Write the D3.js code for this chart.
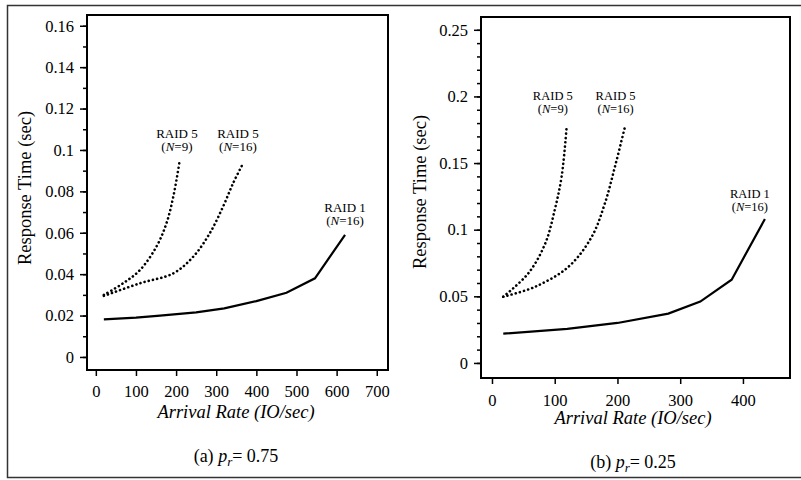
<!DOCTYPE html>
<html>
<head>
<meta charset="utf-8">
<script src="https://cdn.jsdelivr.net/npm/d3@7/dist/d3.min.js"></script>
<style>
  body { margin: 0; background: #fff; }
  svg { font-family: "Liberation Serif", "DejaVu Serif", serif; }
</style>
</head>
<body>
<div id="chart"></div>
<script>
// ---- data ----
// (a) p_r = 0.75
var aRaid1X = [20, 100, 160, 250, 320, 400, 475, 546, 621];
var aRaid1Y = [0.0182, 0.019, 0.020, 0.0215, 0.0235, 0.027, 0.031, 0.038, 0.059];
var aRaid5n9X = [20, 68, 110, 151, 176, 193, 208];
var aRaid5n9Y = [0.030, 0.0356, 0.042, 0.0533, 0.0646, 0.0774, 0.0936];
var aRaid5n16X = [20, 110, 193, 243, 284, 317, 342, 367];
var aRaid5n16Y = [0.0295, 0.0356, 0.0404, 0.0485, 0.0598, 0.0726, 0.0839, 0.0936];
var aXTicks = [0, 100, 200, 300, 400, 500, 600, 700];
var aYTicks = [0, 0.02, 0.04, 0.06, 0.08, 0.1, 0.12, 0.14, 0.16];

// (b) p_r = 0.25
var bRaid1X = [18, 120, 200, 281, 332, 382, 435];
var bRaid1Y = [0.022, 0.0255, 0.030, 0.037, 0.046, 0.0625, 0.108];
var bRaid5n9X = [18, 58, 85, 100, 111, 119];
var bRaid5n9Y = [0.0497, 0.0673, 0.0898, 0.1148, 0.1398, 0.1773];
var bRaid5n16X = [18, 69, 122, 159, 180, 196, 212];
var bRaid5n16Y = [0.0497, 0.0572, 0.0722, 0.0947, 0.1198, 0.1473, 0.1773];
var bXTicks = [0, 100, 200, 300, 400];
var bYTicks = [0, 0.05, 0.1, 0.15, 0.2, 0.25];

var w = 801;
var h = 480;

function zip(xs, ys) {
    return xs.map((x, i) => ({ x: x, y: ys[i] }));
}

var svg = d3.select("#chart")
    .append("svg")
    .attr("width", w)
    .attr("height", h);

// outer figure border
svg.append("rect")
    .attr("x", 7.5)
    .attr("y", 5.5)
    .attr("width", w)
    .attr("height", 472)
    .attr("fill", "none")
    .attr("stroke", "#333")
    .attr("stroke-width", 1.5);

function drawPanel(p) {
    var x = d3.scaleLinear().domain(p.xDomain).range([p.left, p.right]);
    var y = d3.scaleLinear().domain(p.yDomain).range([p.bottom, p.top]);

    var g = svg.append("g");

    // minor y ticks
    var yMinor = d3.range(0, p.yDomain[1], p.yMinorStep);
    g.append("g")
        .attr("transform", `translate(${p.left}, 0)`)
        .call(d3.axisLeft(y).tickValues(yMinor).tickSize(4).tickFormat(""))
        .call(s => s.select(".domain").remove())
        .selectAll("line").attr("stroke-width", 1.5);

    // y axis
    g.append("g")
        .attr("transform", `translate(${p.left}, 0)`)
        .call(d3.axisLeft(y).tickValues(p.yTicks).tickSize(7).tickPadding(6)
            .tickFormat(d => d === 0 ? "0" : String(+d.toFixed(3))))
        .call(s => s.select(".domain").remove())
        .call(s => s.selectAll("line").attr("stroke-width", 1.5))
        .selectAll("text")
        .attr("font-size", 16.5)
        .attr("font-family", "Liberation Serif")
        .attr("fill", "#000");

    // x axis
    g.append("g")
        .attr("transform", `translate(0, ${p.bottom})`)
        .call(d3.axisBottom(x).tickValues(p.xTicks).tickSize(6).tickPadding(p.xPad))
        .call(s => s.select(".domain").remove())
        .call(s => s.selectAll("line").attr("stroke-width", 1.5))
        .selectAll("text")
        .attr("font-size", 16.5)
        .attr("font-family", "Liberation Serif")
        .attr("fill", "#000");

    // plot frame
    g.append("rect")
        .attr("x", p.left)
        .attr("y", p.top)
        .attr("width", p.right - p.left)
        .attr("height", p.bottom - p.top)
        .attr("fill", "none")
        .attr("stroke", "#000")
        .attr("stroke-width", 2);

    var line = d3.line().x(d => x(d.x)).y(d => y(d.y));
    var smooth = d3.line().x(d => x(d.x)).y(d => y(d.y)).curve(d3.curveCatmullRom.alpha(0.5));

    g.append("path")
        .datum(p.raid1)
        .attr("d", line)
        .attr("fill", "none")
        .attr("stroke", "#000")
        .attr("stroke-width", 2.2);

    [p.raid5n9, p.raid5n16].forEach(data => {
        g.append("path")
            .datum(data)
            .attr("d", smooth)
            .attr("fill", "none")
            .attr("stroke", "#000")
            .attr("stroke-width", 2.6)
            .attr("stroke-linecap", "round")
            .attr("stroke-dasharray", "0.1 4.2");
    });

    // curve labels
    p.labels.forEach(l => {
        g.append("text")
            .attr("x", x(l.x))
            .attr("y", y(l.y))
            .attr("text-anchor", "middle")
            .attr("font-size", p.labelSize)
            .text(l.name);
        var t2 = g.append("text")
            .attr("x", x(l.x))
            .attr("y", y(l.y) + p.labelGap)
            .attr("text-anchor", "middle")
            .attr("font-size", p.labelSize);
        t2.append("tspan").text("(");
        t2.append("tspan").attr("font-style", "italic").text("N");
        t2.append("tspan").text("=" + l.n + ")");
    });

    // axis titles
    g.append("text")
        .attr("x", p.xTitleCx)
        .attr("y", p.xTitleY)
        .attr("text-anchor", "middle")
        .attr("font-size", 18.5)
        .attr("font-style", "italic")
        .text("Arrival Rate (IO/sec)");

    g.append("text")
        .attr("transform", `translate(${p.yTitleX}, ${p.yTitleCy}) rotate(-90)`)
        .attr("text-anchor", "middle")
        .attr("font-size", 18.5)
        .text("Response Time (sec)");

    // caption
    var c = g.append("text")
        .attr("x", p.xTitleCx)
        .attr("y", p.captionY)
        .attr("text-anchor", "middle")
        .attr("font-size", 18);
    c.append("tspan").text("(" + p.tag + ") ");
    c.append("tspan").attr("font-style", "italic").text("p");
    c.append("tspan").attr("font-style", "italic").attr("font-size", 13).attr("dy", 4).text("r");
    c.append("tspan").attr("dy", -4).text("= " + p.pr);
}

drawPanel({
    left: 87, right: 388, top: 15, bottom: 370,
    xDomain: [-22, 728], yDomain: [-0.0063, 0.1652],
    xTicks: aXTicks, yTicks: aYTicks, yMinorStep: 0.01, xPad: 9,
    raid1: zip(aRaid1X, aRaid1Y),
    raid5n9: zip(aRaid5n9X, aRaid5n9Y),
    raid5n16: zip(aRaid5n16X, aRaid5n16Y),
    labels: [
        { name: "RAID 5", n: 9, x: 202, y: 0.1058 },
        { name: "RAID 5", n: 16, x: 354, y: 0.1058 },
        { name: "RAID 1", n: 16, x: 621, y: 0.0701 }
    ],
    labelSize: 13, labelGap: 13.5,
    xTitleCx: 236, xTitleY: 418, yTitleX: 31, yTitleCy: 188,
    captionY: 462, tag: "a", pr: "0.75"
});

drawPanel({
    left: 481, right: 790, top: 17, bottom: 378,
    xDomain: [-17.5, 475], yDomain: [-0.0113, 0.2596],
    xTicks: bXTicks, yTicks: bYTicks, yMinorStep: 0.01, xPad: 10,
    raid1: zip(bRaid1X, bRaid1Y),
    raid5n9: zip(bRaid5n9X, bRaid5n9Y),
    raid5n16: zip(bRaid5n16X, bRaid5n16Y),
    labels: [
        { name: "RAID 5", n: 9, x: 97, y: 0.197 },
        { name: "RAID 5", n: 16, x: 197, y: 0.197 },
        { name: "RAID 1", n: 16, x: 411, y: 0.1235 }
    ],
    labelSize: 12.5, labelGap: 12.5,
    xTitleCx: 633, xTitleY: 424, yTitleX: 426, yTitleCy: 192,
    captionY: 468, tag: "b", pr: "0.25"
});
</script>
</body>
</html>
